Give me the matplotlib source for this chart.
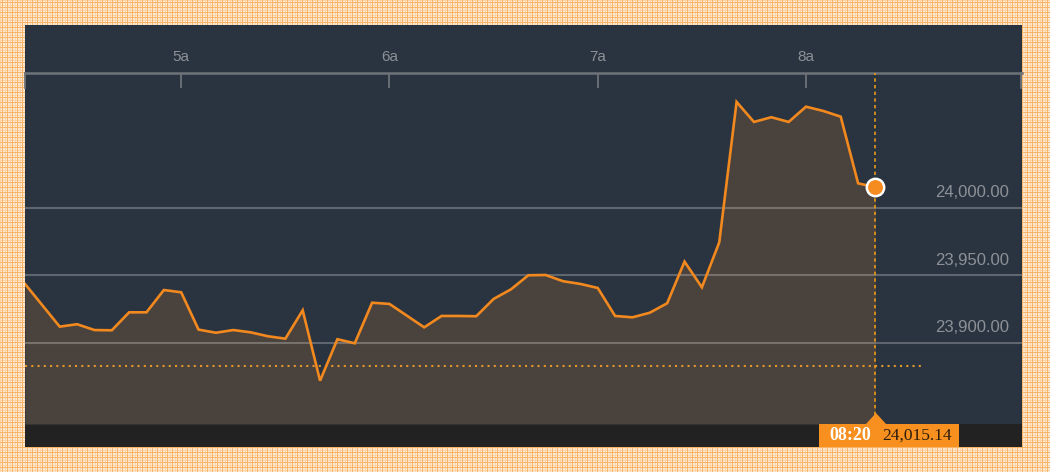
import numpy as np
import matplotlib
matplotlib.use('Agg')
import matplotlib.pyplot as plt
from matplotlib.patches import Rectangle, Polygon

plt.rcParams['font.family'] = ['Liberation Sans', 'DejaVu Sans']

# data: time (h:mm) and index level
times = ['4:15', '4:25', '4:30', '4:35', '4:40', '4:45', '4:50', '4:55',
         '5:00', '5:05', '5:10', '5:15', '5:20', '5:25', '5:30', '5:35',
         '5:40', '5:45', '5:50', '5:55', '6:00', '6:10', '6:15', '6:20',
         '6:25', '6:30', '6:35', '6:40', '6:45', '6:50', '6:55', '7:00',
         '7:05', '7:10', '7:15', '7:20', '7:25', '7:30', '7:35', '7:40',
         '7:45', '7:50', '7:55', '8:00', '8:05', '8:10', '8:15', '8:20']
values = [23943.6, 23912.0, 23913.8, 23909.5, 23909.3, 23922.6, 23922.6, 23939.1,
          23937.4, 23909.8, 23907.5, 23909.5, 23907.8, 23904.9, 23903.1, 23924.1,
          23872.0, 23902.7, 23899.7, 23929.7, 23928.8, 23911.5, 23919.9, 23919.9,
          23919.7, 23932.5, 23939.6, 23950.0, 23950.2, 23945.6, 23943.6, 23940.6,
          23919.9, 23918.9, 23922.3, 23929.3, 23960.1, 23941.1, 23974.3, 24078.2,
          24063.4, 24066.9, 24063.4, 24074.7, 24071.5, 24067.3, 24018.0, 24015.14]
prev_close = 23882.9
prev_close_end = '8:34'
hour_ticks = [5, 6, 7, 8]
hour_labels = ['5a', '6a', '7a', '8a']
grid_levels = [23900, 23950, 24000]
last_time_label = '08:20'
last_value_label = '24,015.14'


def to_hours(t):
    h, m = t.split(':')
    return int(h) + int(m) / 60.0


x = np.array([to_hours(t) for t in times])
y = np.array(values)

W, H = 1050, 472
fig = plt.figure(figsize=(W / 100, H / 100), dpi=100)

# peach plaid background
bg = np.ones((H, W, 3))
base = np.array([253, 234, 212]) / 255.0
line1 = np.array([248, 180, 104]) / 255.0
line2 = np.array([251, 212, 168]) / 255.0
bg[:, :] = base
rows = np.arange(H)
cols = np.arange(W)
bg[rows % 5 == 0, :] = line2
bg[:, cols % 5 == 0] = line2
bg[rows % 5 == 2, :] = line1
bg[:, cols % 5 == 2] = line1
fig.figimage(bg, 0, 0, zorder=0)

navy = '#2a3440'
fig.patches.append(Rectangle((25 / W, (H - 447) / H), 997 / W, 422 / H,
                             transform=fig.transFigure, facecolor=navy,
                             edgecolor='none', zorder=1))
fig.patches.append(Rectangle((25 / W, (H - 447) / H), 997 / W, 23 / H,
                             transform=fig.transFigure, facecolor='#222222',
                             edgecolor='none', zorder=1))

ax = fig.add_axes([25 / W, (H - 424) / H, 997 / W, 351 / H])
ax.set_facecolor('none')
ax.set_zorder(2)
ax.set_xlim(4.25, 9.037)
ax.set_ylim(23840, 24099.6)

ax.fill_between(x, y, 23840, color='#4a423c', lw=0, zorder=1)
for g in grid_levels:
    ax.axhline(g, color='white', alpha=0.25, lw=1.5, zorder=2)
    ax.annotate(f'{g:,.2f}', xy=(1.0, g), xycoords=('axes fraction', 'data'),
                xytext=(-9.4, 10.8), textcoords='offset points',
                ha='right', va='center', fontsize=12, color='#8d9197')

ax.plot([x[0], to_hours(prev_close_end)], [prev_close, prev_close],
        color='#e0962c', lw=1.5, ls=(0, (1, 2)), zorder=3)
ax.plot(x, y, color='#f2891f', lw=1.9, zorder=4, solid_joinstyle='miter')
ax.axvline(x[-1], ymin=9 / 351, ymax=1, color='#e89a1a', lw=1.2,
           ls=(0, (2, 2)), zorder=3)
ax.plot(x[-1], y[-1], 'o', ms=12.5, mfc='#f68b1f', mec='white', mew=1.8, zorder=5)

# top axis with hour labels
ax.xaxis.tick_top()
ax.set_xticks(hour_ticks)
ax.set_xticklabels(hour_labels)
ax.tick_params(axis='x', direction='in', length=11, width=1.3, color='#6e7378',
               labelcolor='#8d9197', labelsize=11, pad=6.5)
ax.set_yticks([])
for s in ['left', 'right', 'bottom']:
    ax.spines[s].set_visible(False)
ax.spines['top'].set_color('#6e7378')
ax.spines['top'].set_linewidth(1.8)
for xe in [25, 1021]:
    fig.lines.append(plt.Line2D([xe / W, xe / W], [(H - 73) / H, (H - 88) / H],
                                transform=fig.transFigure, color='#6e7378',
                                lw=1.3, zorder=3))

# current value flag
xm = 876
orange = '#f7901e'
fig.patches.append(Polygon([((xm - 10) / W, (H - 424) / H), ((xm + 10) / W, (H - 424) / H),
                            (xm / W, (H - 413) / H)], closed=True,
                           transform=fig.transFigure, facecolor=orange,
                           edgecolor='none', zorder=6))
fig.patches.append(Rectangle((819 / W, (H - 447) / H), 140 / W, 23 / H,
                             transform=fig.transFigure, facecolor=orange,
                             edgecolor='none', zorder=6))
fig.text(829 / W, (H - 436) / H, last_time_label, color='white',
         family=['Liberation Serif', 'DejaVu Serif'], fontsize=13,
         fontweight='bold', va='center', ha='left', zorder=7)
fig.text(882 / W, (H - 436) / H, last_value_label, color='#2b1d0e',
         family=['Liberation Serif', 'DejaVu Serif'], fontsize=12.5,
         va='center', ha='left', zorder=7)

fig.savefig('out.png', dpi=100)
